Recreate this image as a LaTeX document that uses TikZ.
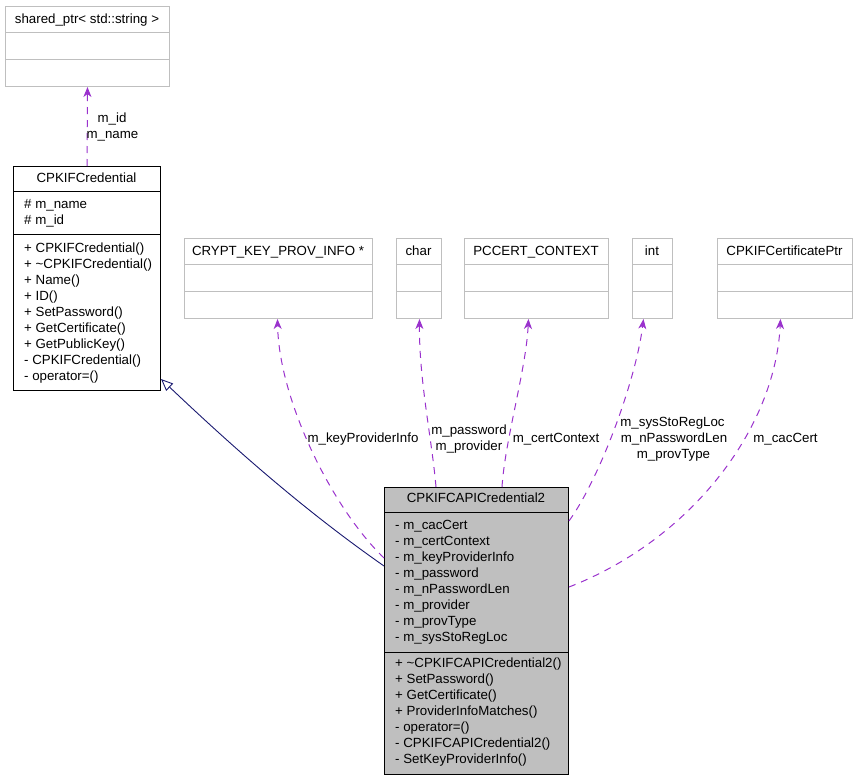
\documentclass[tikz,border=0pt]{standalone}
\usepackage{fontspec}
\setmainfont{Liberation Sans}
\usetikzlibrary{arrows.meta}
\definecolor{depcol}{HTML}{9A32CD}
\definecolor{inhcol}{HTML}{191970}
\definecolor{boxgray}{HTML}{BFBFBF}
\begin{document}
\begin{tikzpicture}[x=1pt,y=-1pt,
  font=\fontsize{13.3}{16}\selectfont,
  txt/.style={inner sep=0pt, anchor=base west},
  ctr/.style={inner sep=0pt, anchor=base},
  grayclass/.style={draw=boxgray, line width=1pt, inner sep=0pt, anchor=north west},
  blackclass/.style={draw=black, line width=1pt, inner sep=0pt, anchor=north west},
  divgray/.style={draw=boxgray, line width=1pt},
  divblack/.style={draw=black, line width=1pt},
  depline/.style={draw=depcol, line width=1pt, dash pattern=on 7pt off 6pt,
    -{Stealth[length=10pt,width=8pt,inset=3pt]}},
  inhline/.style={draw=inhcol, line width=0.9pt,
    -{Triangle[open,length=12pt,width=10pt]}}
]
\useasboundingbox (0,0) rectangle (857,779);

% ---- shared_ptr box
\node[grayclass, minimum width=164pt, minimum height=80pt] (shared) at (5,6) {};
\draw[divgray] (5,32) -- (169,32);
\draw[divgray] (5,59) -- (169,59);
\node[ctr] (sharedT) at (87,23.5) {shared\_ptr< std::string >};

% ---- CPKIFCredential
\node[blackclass, minimum width=147pt, minimum height=224pt] (cred) at (13,166) {};
\draw[divblack] (13,191) -- (160,191);
\draw[divblack] (13,234) -- (160,234);
\node[ctr] (credT) at (86.5,182) {CPKIFCredential};
\node[txt] (c1) at (24,208.5) {\# m\_name};
\node[txt] (c2) at (24,224.5) {\# m\_id};
\node[txt] (c3) at (24,252.5) {+ CPKIFCredential()};
\node[txt] (c4) at (24,268.5) {+ \textasciitilde CPKIFCredential()};
\node[txt] (c5) at (24,284.5) {+ Name()};
\node[txt] (c6) at (24,300.5) {+ ID()};
\node[txt] (c7) at (24,316.5) {+ SetPassword()};
\node[txt] (c8) at (24,332.5) {+ GetCertificate()};
\node[txt] (c9) at (24,348.5) {+ GetPublicKey()};
\node[txt] (c10) at (24,364.5) {- CPKIFCredential()};
\node[txt] (c11) at (24,380.5) {- operator=()};

% ---- top row of gray boxes
\node[grayclass, minimum width=188pt, minimum height=80pt] (crypt) at (184,238) {};
\draw[divgray] (184,264) -- (372,264);
\draw[divgray] (184,291) -- (372,291);
\node[ctr] (cryptT) at (278,255.5) {CRYPT\_KEY\_PROV\_INFO *};

\node[grayclass, minimum width=45pt, minimum height=80pt] (char) at (396,238) {};
\draw[divgray] (396,264) -- (441,264);
\draw[divgray] (396,291) -- (441,291);
\node[ctr] (charT) at (418.5,255.5) {char};

\node[grayclass, minimum width=144pt, minimum height=80pt] (pccert) at (464,238) {};
\draw[divgray] (464,264) -- (608,264);
\draw[divgray] (464,291) -- (608,291);
\node[ctr] (pccertT) at (536,255.5) {PCCERT\_CONTEXT};

\node[grayclass, minimum width=40pt, minimum height=80pt] (int) at (632,238) {};
\draw[divgray] (632,264) -- (672,264);
\draw[divgray] (632,291) -- (672,291);
\node[ctr] (intT) at (652,255.5) {int};

\node[grayclass, minimum width=135pt, minimum height=80pt] (certptr) at (717,238) {};
\draw[divgray] (717,264) -- (852,264);
\draw[divgray] (717,291) -- (852,291);
\node[ctr] (certptrT) at (784.5,255.5) {CPKIFCertificatePtr};

% ---- CPKIFCAPICredential2
\node[blackclass, fill=boxgray, minimum width=184pt, minimum height=287pt] (capi) at (384,487) {};
\draw[divblack] (384,512) -- (568,512);
\draw[divblack] (384,652) -- (568,652);
\node[ctr] (capiT) at (476,502.5) {CPKIFCAPICredential2};
\node[txt] (a1) at (395,529.5) {- m\_cacCert};
\node[txt] (a2) at (395,545.5) {- m\_certContext};
\node[txt] (a3) at (395,561.5) {- m\_keyProviderInfo};
\node[txt] (a4) at (395,577.5) {- m\_password};
\node[txt] (a5) at (395,593.5) {- m\_nPasswordLen};
\node[txt] (a6) at (395,609.5) {- m\_provider};
\node[txt] (a7) at (395,625.5) {- m\_provType};
\node[txt] (a8) at (395,641.5) {- m\_sysStoRegLoc};
\node[txt] (b1) at (395,667.5) {+ \textasciitilde CPKIFCAPICredential2()};
\node[txt] (b2) at (395,683.5) {+ SetPassword()};
\node[txt] (b3) at (395,699.5) {+ GetCertificate()};
\node[txt] (b4) at (395,715.5) {+ ProviderInfoMatches()};
\node[txt] (b5) at (395,731.5) {- operator=()};
\node[txt] (b6) at (395,747.5) {- CPKIFCAPICredential2()};
\node[txt] (b7) at (395,763.5) {- SetKeyProviderInfo()};

% ---- connectors
\draw[depline] (cred.north) -- (shared.south);
\node[ctr] (lid) at (112,122.5) {m\_id};
\node[ctr] (lname) at (112.5,138.5) {m\_name};

\draw[inhline] ([yshift=-79pt]capi.north west) .. controls (304,510) and (236,450) .. ([yshift=12pt]cred.south east);

\draw[depline] ([yshift=-71pt]capi.north west) .. controls (332,508) and (279,400) .. ([xshift=-1pt]crypt.south);
\node[ctr] (lkey) at (363,442.5) {m\_keyProviderInfo};

\draw[depline] ([xshift=52pt]capi.north west) .. controls (432,440) and (419,380) .. ([xshift=0.5pt]char.south);
\node[ctr] (lpw) at (469,434.5) {m\_password};
\node[ctr] (lprov) at (469,450.5) {m\_provider};

\draw[depline] ([xshift=118pt]capi.north west) .. controls (505,440) and (526,370) .. ([xshift=-8pt]pccert.south);
\node[ctr] (lcc) at (556,442.5) {m\_certContext};

\draw[depline] ([yshift=-34pt]capi.north east) .. controls (600,478) and (636,380) .. ([xshift=-9pt]int.south);
\node[ctr] (lsys) at (672.5,426.5) {m\_sysStoRegLoc};
\node[ctr] (lnpw) at (674,442.5) {m\_nPasswordLen};
\node[ctr] (lpt) at (673.5,458.5) {m\_provType};

\draw[depline] ([yshift=-100pt]capi.north east) .. controls (690,540) and (775,430) .. ([xshift=-4.5pt]certptr.south);
\node[ctr] (lcac) at (785.5,442.5) {m\_cacCert};
\end{tikzpicture}
\end{document}
